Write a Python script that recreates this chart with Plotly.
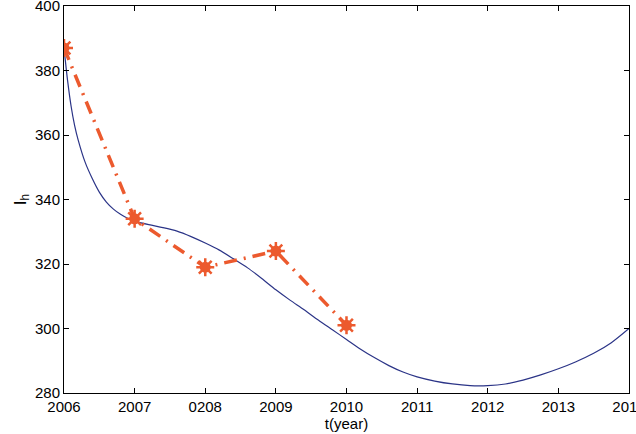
import plotly.graph_objects as go

# observed data (red, dash-dot with star markers)
obs_years = [2006, 2007, 2008, 2009, 2010]
obs_values = [387, 334, 319, 324, 301]

# model curve (blue)
fit_years = [2006.0, 2006.05, 2006.1, 2006.15, 2006.2, 2006.3, 2006.4, 2006.5, 2006.6,
             2006.7, 2006.8, 2006.9, 2007.0, 2007.2, 2007.4, 2007.6, 2007.8, 2008.0,
             2008.2, 2008.4, 2008.6, 2008.8, 2009.0, 2009.2, 2009.4, 2009.6, 2009.8,
             2010.0, 2010.2, 2010.4, 2010.6, 2010.8, 2011.0, 2011.25, 2011.5, 2011.75,
             2012.0, 2012.25, 2012.5, 2012.75, 2013.0, 2013.25, 2013.5, 2013.75, 2014.0]
fit_values = [387, 377, 369, 363, 358.5, 351.5, 346.5, 342.3, 339.2,
              337.0, 335.4, 334.2, 333.3, 332.2, 331.3, 330.2, 328.5, 326.5,
              324.3, 321.6, 318.8, 315.5, 312, 308.8, 305.8, 302.6, 299.6,
              296.6, 293.6, 290.9, 288.5, 286.5, 285, 283.7, 282.8, 282.3,
              282.3, 282.8, 284, 285.6, 287.5, 289.7, 292.3, 295.6, 300]

tick_vals = [2006, 2007, 2008, 2009, 2010, 2011, 2012, 2013, 2014]
tick_text = ["2006", "2007", "0208", "2009", "2010", "2011", "2012", "2013", "2014"]

red = "#EC5A2E"
blue = "#2B3487"

fig = go.Figure()
fig.add_trace(go.Scatter(x=fit_years, y=fit_values, mode="lines",
                         line=dict(color=blue, width=1.2, shape="spline", smoothing=0.8)))
fig.add_trace(go.Scatter(x=obs_years, y=obs_values, mode="lines+markers",
                         line=dict(color=red, width=3.5, dash="13px,7px,2px,7px"),
                         marker=dict(symbol="circle", size=11, color=red)))
fig.add_trace(go.Scatter(x=obs_years, y=obs_values, mode="markers",
                         marker=dict(symbol="asterisk-open", size=15, color=red,
                                     line=dict(color=red, width=2.5))))

axis_common = dict(showgrid=False, zeroline=False, showline=True, linecolor="black",
                   linewidth=1, mirror="allticks", ticks="inside", ticklen=5,
                   tickcolor="black", tickfont=dict(size=15, color="black"),
                   ticklabeloverflow="allow", automargin=False)

fig.update_xaxes(range=[2006, 2014], tickvals=tick_vals, ticktext=tick_text,
                 title=dict(text="t(year)", font=dict(size=15, color="black"), standoff=2),
                 **axis_common)
fig.update_yaxes(range=[280, 400], tickvals=[280, 300, 320, 340, 360, 380, 400],
                 title=dict(text="I<sub>h</sub>", font=dict(size=17, color="black"), standoff=4),
                 **axis_common)

fig.update_layout(width=636, height=434, margin=dict(l=64, r=7, t=6, b=41),
                  paper_bgcolor="white", plot_bgcolor="white", showlegend=False,
                  font=dict(family="Liberation Sans, Arial, sans-serif"))

fig.write_html("out.html", config={"displayModeBar": False},
               post_script="document.body.style.margin='0';")
